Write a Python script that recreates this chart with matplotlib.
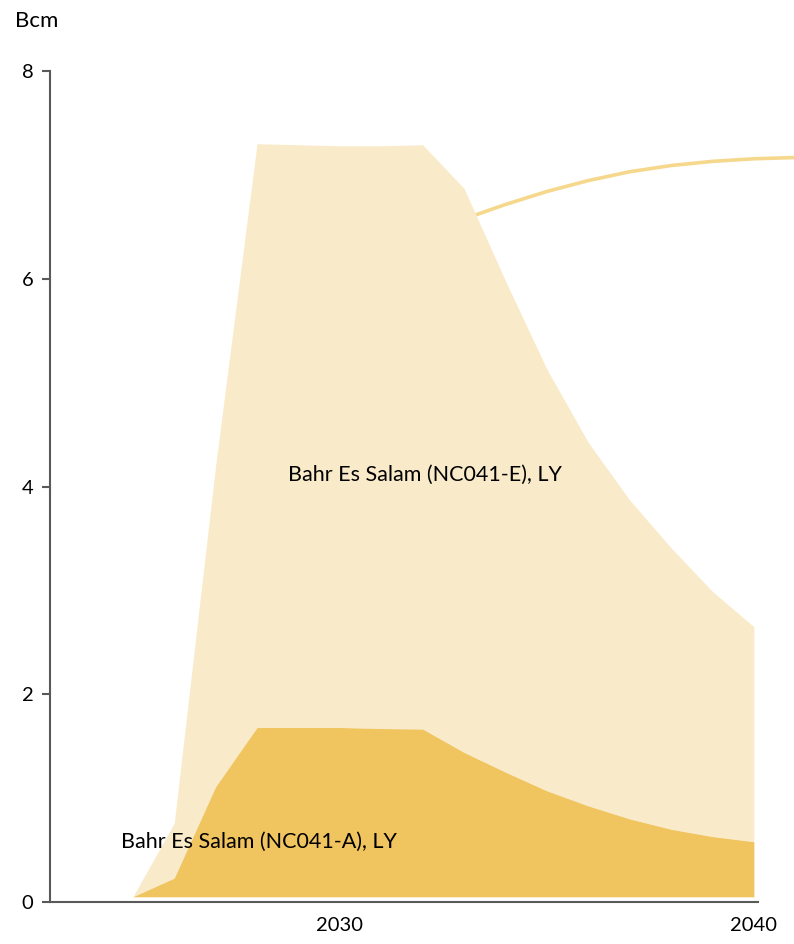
import matplotlib.pyplot as plt

# Bahr Es Salam gas output by field, Bcm per year
years = list(range(2025, 2041))
nc041_a = [0.0, 0.18, 1.06, 1.63, 1.63, 1.63, 1.62, 1.615, 1.39, 1.20, 1.02, 0.875, 0.75, 0.65, 0.58, 0.53]
nc041_e = [0.0, 0.53, 3.09, 5.62, 5.61, 5.60, 5.61, 5.625, 5.43, 4.73, 4.06, 3.50, 3.07, 2.71, 2.36, 2.07]
base = 0.05

# demand curve, continues past the right edge
demand_years = [2033, 2034, 2035, 2036, 2037, 2038, 2039, 2040, 2041]
demand = [6.575, 6.715, 6.84, 6.945, 7.03, 7.09, 7.13, 7.155, 7.167]

labels = ["Bahr Es Salam (NC041-A), LY", "Bahr Es Salam (NC041-E), LY"]
colors = ["#F0C45E", "#F9EBCA"]

plt.rcParams['font.family'] = ['Lato', 'DejaVu Sans']

fig = plt.figure(figsize=(7.94, 9.44), dpi=100)
ax = fig.add_axes([50 / 794, 42 / 944, 708 / 794, 831 / 944])

top_a = [base + a for a in nc041_a]
top_e = [t + e for t, e in zip(top_a, nc041_e)]

ax.plot(demand_years, demand, color="#F5D88C", lw=2.6, clip_on=False, zorder=1,
        solid_capstyle="butt", solid_joinstyle="round")
ax.fill_between(years, base, top_a, color=colors[0], lw=0, zorder=3)
ax.fill_between(years, top_a, top_e, color=colors[1], lw=0, zorder=2)

ax.text(2024.71, 0.58, labels[0], fontsize=15.5, va="center", ha="left", zorder=5)
ax.text(2028.74, 4.11, labels[1], fontsize=15.5, va="center", ha="left", zorder=5)

ax.set_xlim(2023, 2040.1)
ax.set_ylim(0, 8)
ax.set_xticks([2030, 2040])
ax.set_yticks([0, 2, 4, 6, 8])
ax.tick_params(axis="x", length=0, pad=11, labelsize=14.5)
ax.tick_params(axis="y", length=6, width=1.5, color="#595959", pad=6, labelsize=14.5)

for side in ["top", "right"]:
    ax.spines[side].set_visible(False)
for side in ["left", "bottom"]:
    ax.spines[side].set_color("#595959")
    ax.spines[side].set_linewidth(1.5)

fig.text(37 / 794, 1 - 21 / 944, "Bcm", fontsize=16, ha="center", va="center")

fig.savefig("out.png", dpi=100)
